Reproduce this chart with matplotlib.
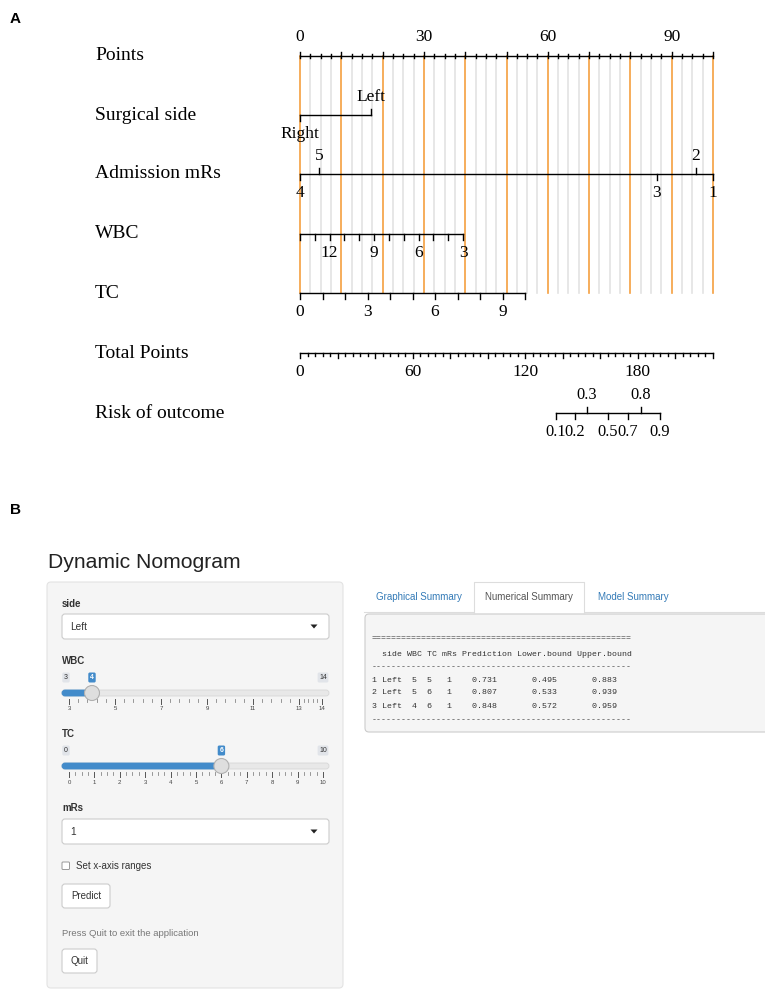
import numpy as np
import matplotlib
matplotlib.use("Agg")
import matplotlib.pyplot as plt
from matplotlib.patches import FancyBboxPatch, Circle, Polygon, Rectangle

# ---------------- panel A : nomogram values ----------------
row_names = ["Points", "Surgical side", "Admission mRs", "WBC", "TC",
             "Total Points", "Risk of outcome"]

points_max = 100
points_labels = [0, 30, 60, 90]

side_names = ["Right", "Left"]
side_points = [0, 17.2]
side_above = [False, True]

mrs_names = ["4", "5", "3", "2", "1"]
mrs_points = [0, 4.6, 86.4, 95.9, 100]
mrs_above = [False, True, False, True, False]

wbc_ticks = [3, 4, 5, 6, 7, 8, 9, 10, 11, 12, 13, 14]
wbc_labels = [3, 6, 9, 12]
wbc_ends = [3, 14]
wbc_ends_points = [39.5, 0]

tc_ticks = [0, 1, 2, 3, 4, 5, 6, 7, 8, 9, 10]
tc_labels = [0, 3, 6, 9]
tc_ends = [0, 10]
tc_ends_points = [0, 54.5]

total_max = 220
total_labels = [0, 60, 120, 180]

risk_values = [0.1, 0.2, 0.3, 0.5, 0.7, 0.8, 0.9]
risk_total = [136.4, 146.5, 152.9, 164.1, 174.7, 181.7, 191.8]
risk_above = [False, False, True, False, False, True, False]

# ---------------- panel B : shiny app state ----------------
app_title = "Dynamic Nomogram"
side_choice = "Left"
wbc_range = [3, 14]
wbc_value = 4
wbc_grid = [3, 5, 7, 9, 11, 13, 14]
tc_range = [0, 10]
tc_value = 6
tc_grid = [0, 1, 2, 3, 4, 5, 6, 7, 8, 9, 10]
mrs_choice = "1"
tab_names = ["Graphical Summary", "Numerical Summary", "Model Summary"]
active_tab = 1

tbl_side = ["Left", "Left", "Left"]
tbl_wbc = [5, 5, 4]
tbl_tc = [5, 6, 6]
tbl_mrs = [1, 1, 1]
tbl_pred = [0.731, 0.807, 0.848]
tbl_lower = [0.495, 0.533, 0.572]
tbl_upper = [0.883, 0.939, 0.959]

SERIF = "Liberation Serif"
SANS = "Liberation Sans"
MONO = "Liberation Mono"

fig = plt.figure(figsize=(7.65, 9.91), dpi=100)

# nomogram axes: x in "points", y in pixels
ppp = 4.13          # pixels per point
x0 = 300            # pixel of 0 points
axA = fig.add_axes([0, 0, 1, 1])
axA.set_xlim(-x0 / ppp, (765 - x0) / ppp)
axA.set_ylim(991, 0)
axA.axis("off")

row_y = [56, 115, 174, 234, 293, 353, 413]
tick_fs = 12.5
lw = 1.0


def tot(v):
    return np.asarray(v) * points_max / total_max


# reference lines
grid_pts = np.arange(0, points_max + 0.01, 2.5)
for p in grid_pts:
    if p % 10 == 0:
        continue
    axA.plot([p, p], [row_y[0], row_y[4]], color="#e3e3e3", lw=1.2, zorder=1)
for p in grid_pts:
    if p % 10 == 0:
        axA.plot([p, p], [row_y[0], row_y[4]], color="#f5a040", lw=1.2, zorder=2)

# row labels
for name, y in zip(row_names, row_y):
    axA.text((95 - x0) / ppp, y, name, fontsize=14, family=SERIF,
             ha="left", va="center")

# Points axis
y = row_y[0]
axA.plot([0, points_max], [y, y], color="black", lw=lw, zorder=3)
for p in grid_pts:
    up = 4.5 if p % 10 == 0 else 2
    axA.plot([p, p], [y - up, y + 1.5], color="black", lw=lw, zorder=3)
for p in points_labels:
    axA.text(p, y - 19, str(p), fontsize=tick_fs, family=SERIF, ha="center", va="center")


def cat_axis(y, pts, names, above, tl=6, fs=tick_fs):
    axA.plot([min(pts), max(pts)], [y, y], color="black", lw=lw, zorder=3)
    for p, n, a in zip(pts, names, above):
        d = -tl if a else tl
        axA.plot([p, p], [y, y + d], color="black", lw=lw, zorder=3)
        axA.text(p, y - 18 if a else y + 19, n, fontsize=fs, family=SERIF,
                 ha="center", va="center")


cat_axis(row_y[1], side_points, side_names, side_above)
cat_axis(row_y[2], mrs_points, mrs_names, mrs_above)


def cont_axis(y, ticks, labels, ends, ends_pts):
    pts = np.interp(ticks, ends, ends_pts)
    axA.plot([min(pts), max(pts)], [y, y], color="black", lw=lw, zorder=3)
    for p in pts:
        axA.plot([p, p], [y, y + 6], color="black", lw=lw, zorder=3)
    for v in labels:
        axA.text(np.interp(v, ends, ends_pts), y + 19, str(v), fontsize=tick_fs,
                 family=SERIF, ha="center", va="center")


cont_axis(row_y[3], wbc_ticks, wbc_labels, wbc_ends, wbc_ends_points)
cont_axis(row_y[4], tc_ticks, tc_labels, tc_ends, tc_ends_points)

# Total points
y = row_y[5]
axA.plot([0, points_max], [y, y], color="black", lw=lw, zorder=3)
for t in np.arange(0, total_max + 0.01, 4):
    dn = 5 if t % 20 == 0 else 2.5
    axA.plot([tot(t), tot(t)], [y, y + dn], color="black", lw=lw, zorder=3)
for t in total_labels:
    axA.text(tot(t), y + 19, str(t), fontsize=tick_fs, family=SERIF, ha="center", va="center")

# Risk of outcome
rt = tot(risk_total)
cat_axis(row_y[6], rt, [f"{v:g}" for v in risk_values], risk_above, fs=11.8)

# panel letters
fig.text(10 / 765, 1 - 19 / 991, "A", fontsize=11, weight="bold", family=SANS, va="center")
fig.text(10 / 765, 1 - 510 / 991, "B", fontsize=11, weight="bold", family=SANS, va="center")

# ---------------- panel B ----------------
axB = fig.add_axes([0, 0, 1, 1])
axB.set_xlim(0, 765)
axB.set_ylim(991, 0)
axB.axis("off")
axB.patch.set_alpha(0)

TXT = "#333333"


def rbox(xa, ya, xb, yb, fc, ec, r=3, lwd=0.8, z=2):
    axB.add_patch(FancyBboxPatch((xa, ya), xb - xa, yb - ya,
                                 boxstyle=f"round,pad=0,rounding_size={r}",
                                 fc=fc, ec=ec, lw=lwd, zorder=z))


axB.text(48, 562, app_title, fontsize=15.2, family=SANS, color="#222222",
         ha="left", va="center")

# side panel
rbox(47, 582, 343, 988, "#f5f5f5", "#e3e3e3", r=4, z=1)


def select(y_lab, y_top, choice, label):
    axB.text(62, y_lab, label, fontsize=7, weight="bold", family=SANS, color=TXT, va="center")
    rbox(62, y_top, 329, y_top + 25, "white", "#cccccc", r=3)
    axB.text(70, y_top + 13, choice, fontsize=7.3, family=SANS, color=TXT, va="center")
    cx, cy = 314, y_top + 12.5
    axB.add_patch(Polygon([[cx - 3.5, cy - 2], [cx + 3.5, cy - 2], [cx, cy + 2]],
                          closed=True, fc="#222222", ec="none", zorder=3))


def slider(label, y_lab, rng, val, grid, xa, xb, minor_n):
    def sx(v):
        return np.interp(v, rng, [xa, xb])

    axB.text(62, y_lab, label, fontsize=7, weight="bold", family=SANS, color=TXT, va="center")
    yl = y_lab + 16.5
    yt = y_lab + 32
    # min / max / value labels
    for txt, xc, fc, tc_ in [(str(rng[0]), 66, "#e1e4e9", TXT),
                             (str(rng[1]), 323, "#e1e4e9", TXT),
                             (str(val), sx(val), "#428bca", "white")]:
        w = 4 + 3.4 * len(txt)
        rbox(xc - w / 2, yl - 5, xc + w / 2, yl + 5, fc, "none", r=1.5, z=3)
        axB.text(xc, yl, txt, fontsize=5, family=SANS, color=tc_, ha="center",
                 va="center", zorder=4, weight="bold" if fc == "#428bca" else "normal")
    rbox(62, yt - 3, 329, yt + 3, "#e8e8e8", "#d6d6d6", r=3, lwd=0.6, z=2)
    rbox(62, yt - 3, sx(val), yt + 3, "#428bca", "#428bca", r=3, lwd=0.6, z=3)
    axB.add_patch(Circle((sx(val), yt), 7.5, fc="#dedede", ec="#b0b0b0", lw=0.8, zorder=4))
    for i, g in enumerate(grid):
        axB.plot([sx(g), sx(g)], [yt + 6, yt + 11], color="#555555", lw=0.7, zorder=3)
        axB.text(sx(g), yt + 16, str(g), fontsize=4.3, family=SANS, color="#444444",
                 ha="center", va="center")
        if i + 1 < len(grid):
            seg = np.linspace(g, grid[i + 1], minor_n + 2)[1:-1]
            for m in seg:
                axB.plot([sx(m), sx(m)], [yt + 6, yt + 8.5], color="#888888", lw=0.6, zorder=3)


select(604, 614, side_choice, "side")
slider("WBC", 661, wbc_range, wbc_value, wbc_grid, 69, 322, 4)
slider("TC", 734, tc_range, tc_value, tc_grid, 69, 323, 3)
select(808, 819, mrs_choice, "mRs")

# checkbox
rbox(62, 862, 69.5, 869.5, "white", "#999999", r=1, lwd=0.7)
axB.text(76, 866, "Set x-axis ranges", fontsize=7, family=SANS, color=TXT, va="center")

# buttons
rbox(62, 884, 110, 908, "white", "#cccccc", r=3)
axB.text(86, 896, "Predict", fontsize=7, family=SANS, color=TXT, ha="center", va="center")
axB.text(62, 934, "Press Quit to exit the application", fontsize=6.8, family=SANS,
         color="#777777", va="center")
rbox(62, 949, 97, 973, "white", "#cccccc", r=3)
axB.text(79.5, 961, "Quit", fontsize=7, family=SANS, color=TXT, ha="center", va="center")

# tabs
tab_x = [(366, 472), (474, 584), (586, 680)]
axB.plot([364, 765], [612, 612], color="#dddddd", lw=0.8, zorder=2)
for i, (name, (xa, xb)) in enumerate(zip(tab_names, tab_x)):
    if i == active_tab:
        axB.add_patch(Rectangle((xa, 582), xb - xa, 31, fc="white", ec="none", zorder=3))
        axB.plot([xa, xa, xb, xb], [612.5, 582, 582, 612.5], color="#dddddd", lw=0.8, zorder=4)
        col = "#555555"
    else:
        col = "#337ab7"
    axB.text((xa + xb) / 2, 597, name, fontsize=7, family=SANS, color=col,
             ha="center", va="center", zorder=5)

# numerical summary output
rbox(365, 614, 790, 732, "#f5f5f5", "#cccccc", r=4, z=1)
lines = ["=" * 52,
         "  side WBC TC mRs Prediction Lower.bound Upper.bound",
         "-" * 52]
for i in range(len(tbl_pred)):
    lines.append(f"{i + 1} {tbl_side[i]}  {tbl_wbc[i]}  {tbl_tc[i]}   {tbl_mrs[i]}    "
                 f"{tbl_pred[i]:.3f}       {tbl_lower[i]:.3f}       {tbl_upper[i]:.3f}")
lines.append("-" * 52)
line_y = [639, 654, 667, 680, 693, 706, 720]
for s, yy in zip(lines, line_y):
    axB.text(372, yy, s, fontsize=5.95, family=MONO, color=TXT, va="center", zorder=3)

fig.savefig("out.png", dpi=100, facecolor="white")
